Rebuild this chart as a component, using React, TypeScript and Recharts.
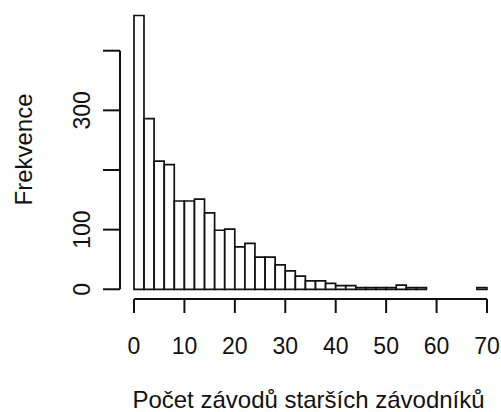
import React from "react";
import { ComposedChart, Bar, XAxis, YAxis, ReferenceLine } from "recharts";

// levé hrany tříd histogramu (šířka třídy 2)
const BIN_START = [
  0, 2, 4, 6, 8, 10, 12, 14, 16, 18, 20, 22, 24, 26, 28, 30, 32, 34,
  36, 38, 40, 42, 44, 46, 48, 50, 52, 54, 56, 58, 60, 62, 64, 66, 68,
];
// četnosti v jednotlivých třídách
const FREKVENCE = [
  459, 286, 215, 209, 148, 148, 151, 128, 99, 101, 71, 77, 54, 54, 41, 31, 22, 14,
  14, 10, 6, 6, 3, 3, 3, 3, 7, 3, 3, 0, 0, 0, 0, 0, 3,
];
const X_TICKS = [0, 10, 20, 30, 40, 50, 60, 70];
const Y_TICKS = [0, 100, 200, 300, 400];
// R vynechá popisky, které by se překrývaly
const Y_TICK_LABELS: Record<number, string> = { 0: "0", 100: "100", 300: "300" };

const X_TITLE = "Počet závodů starších závodníků";
const Y_TITLE = "Frekvence";

const FONT = "'Liberation Sans', Arial, Helvetica, sans-serif";
const INK = "#111";

const data = BIN_START.map((start, i) => ({ bin: start, pocet: FREKVENCE[i] }));

function YTick(props: any) {
  const { y, payload } = props;
  const text = Y_TICK_LABELS[payload.value];
  return (
    <g>
      <line x1={103} x2={120} y1={y} y2={y} stroke={INK} strokeWidth={2} />
      {text && (
        <text
          transform={`translate(90, ${y}) rotate(-90)`}
          textAnchor="middle"
          fontSize={23}
          fontFamily={FONT}
          fill={INK}
        >
          {text}
        </text>
      )}
    </g>
  );
}

function YTitle(props: any) {
  const { viewBox } = props;
  const cy = viewBox.y + viewBox.height / 2;
  return (
    <text
      transform={`translate(32, ${cy}) rotate(-90)`}
      textAnchor="middle"
      fontSize={24}
      fontFamily={FONT}
      fill={INK}
    >
      {Y_TITLE}
    </text>
  );
}

function XTitle(props: any) {
  const { viewBox } = props;
  return (
    <text
      x={viewBox.x + viewBox.width / 2 - 2}
      y={408}
      textAnchor="middle"
      fontSize={24}
      fontFamily={FONT}
      fill={INK}
    >
      {X_TITLE}
    </text>
  );
}

export default function App() {
  return (
    <div style={{ position: "absolute", left: 0, top: 0, background: "#fff" }}>
      <ComposedChart
        width={501}
        height={412}
        data={data}
        margin={{ top: 0, right: 14, bottom: 0, left: 0 }}
        barCategoryGap={0}
        barGap={0}
      >
        <XAxis xAxisId="bins" dataKey="bin" type="category" hide />
        <XAxis
          xAxisId="axis"
          dataKey="bin"
          type="number"
          domain={[0, 70]}
          ticks={X_TICKS}
          allowDataOverflow
          height={113}
          tickSize={14}
          tickMargin={25}
          axisLine={{ stroke: INK, strokeWidth: 2 }}
          tickLine={{ stroke: INK, strokeWidth: 2 }}
          tick={{ fill: INK, fontSize: 23, fontFamily: FONT }}
          label={{ content: <XTitle /> }}
        />
        <YAxis
          domain={[-16.3, 485]}
          ticks={Y_TICKS}
          allowDataOverflow
          width={134}
          axisLine={false}
          tickLine={false}
          tick={<YTick />}
          label={{ content: <YTitle /> }}
        />
        <ReferenceLine
          xAxisId="axis"
          segment={[
            { x: -2.78, y: 0 },
            { x: -2.78, y: 400 },
          ]}
          ifOverflow="visible"
          stroke={INK}
          strokeWidth={2}
        />
        <Bar
          xAxisId="bins"
          dataKey="pocet"
          fill="#fff"
          stroke={INK}
          strokeWidth={1.7}
          isAnimationActive={false}
        />
      </ComposedChart>
    </div>
  );
}
